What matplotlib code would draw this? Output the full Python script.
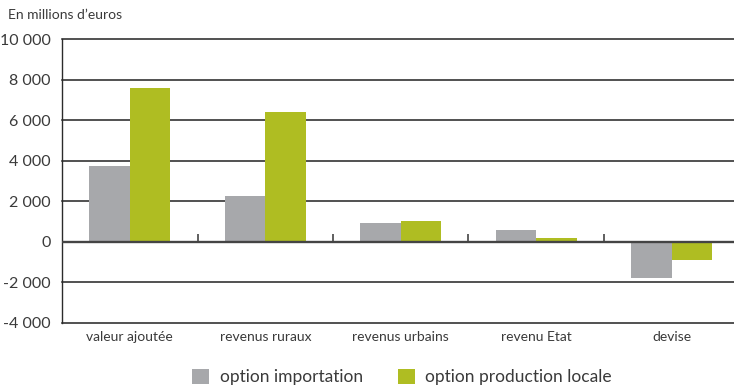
import numpy as np
import matplotlib
matplotlib.use("Agg")
import matplotlib.pyplot as plt

plt.rcParams['font.family'] = ['Lato', 'DejaVu Sans']

categories = ["valeur ajoutée", "revenus ruraux", "revenus urbains", "revenu Etat", "devise"]
importation = [3750, 2260, 925, 580, -1780]
production_locale = [7610, 6420, 1025, 180, -905]
y_ticks = [-4000, -2000, 0, 2000, 4000, 6000, 8000, 10000]
y_labels = ["-4 000", "-2 000", "0", "2 000", "4 000", "6 000", "8 000", "10 000"]

grey = "#a7a8ab"
green = "#afbd22"
txt = "#3a3a3a"

fig = plt.figure(figsize=(7.34, 3.91), dpi=100)
ax = fig.add_axes([62 / 734, 1 - 322.5 / 391, 677.5 / 734, 283 / 391])

X = np.arange(len(categories))
w = 0.3
ax.bar(X - w / 2, importation, width=w, color=grey, label="option importation", zorder=3)
ax.bar(X + w / 2, production_locale, width=w, color=green, label="option production locale", zorder=3)

ax.set_xlim(-0.5, len(categories) - 0.5)
ax.set_ylim(-4000, 10000)
ax.set_yticks(y_ticks)
ax.set_yticklabels(y_labels)
ax.set_xticks(X)
ax.set_xticklabels(categories)

for y in y_ticks:
    if y != 0:
        ax.axhline(y, color="#222222", lw=1.1, zorder=1, clip_on=False)
ax.axhline(0, color="#444444", lw=1.7, zorder=4)

# small separators on the zero line
ax.vlines(X[:-1] + 0.5, 0, 380, color="#444444", lw=1.2, zorder=4)

for s in ["top", "right", "bottom"]:
    ax.spines[s].set_visible(False)
ax.spines["left"].set_color("#2b2b2b")
ax.spines["left"].set_linewidth(1.0)

ax.tick_params(axis="y", length=0, pad=8, labelsize=11.5, labelcolor=txt)
ax.tick_params(axis="x", length=0, pad=6, labelsize=10, labelcolor=txt)

fig.text(8 / 734, 1 - 15 / 391, "En millions d\u2019euros", fontsize=10, color=txt, va="center", ha="left")

fig.legend(loc="center", bbox_to_anchor=(402 / 734, 1 - 377 / 391), ncol=2, frameon=False,
           fontsize=12.5, handlelength=1.0, handleheight=1.0, handletextpad=0.6,
           columnspacing=2.0, labelcolor=txt)

fig.savefig("out.png", dpi=100)
